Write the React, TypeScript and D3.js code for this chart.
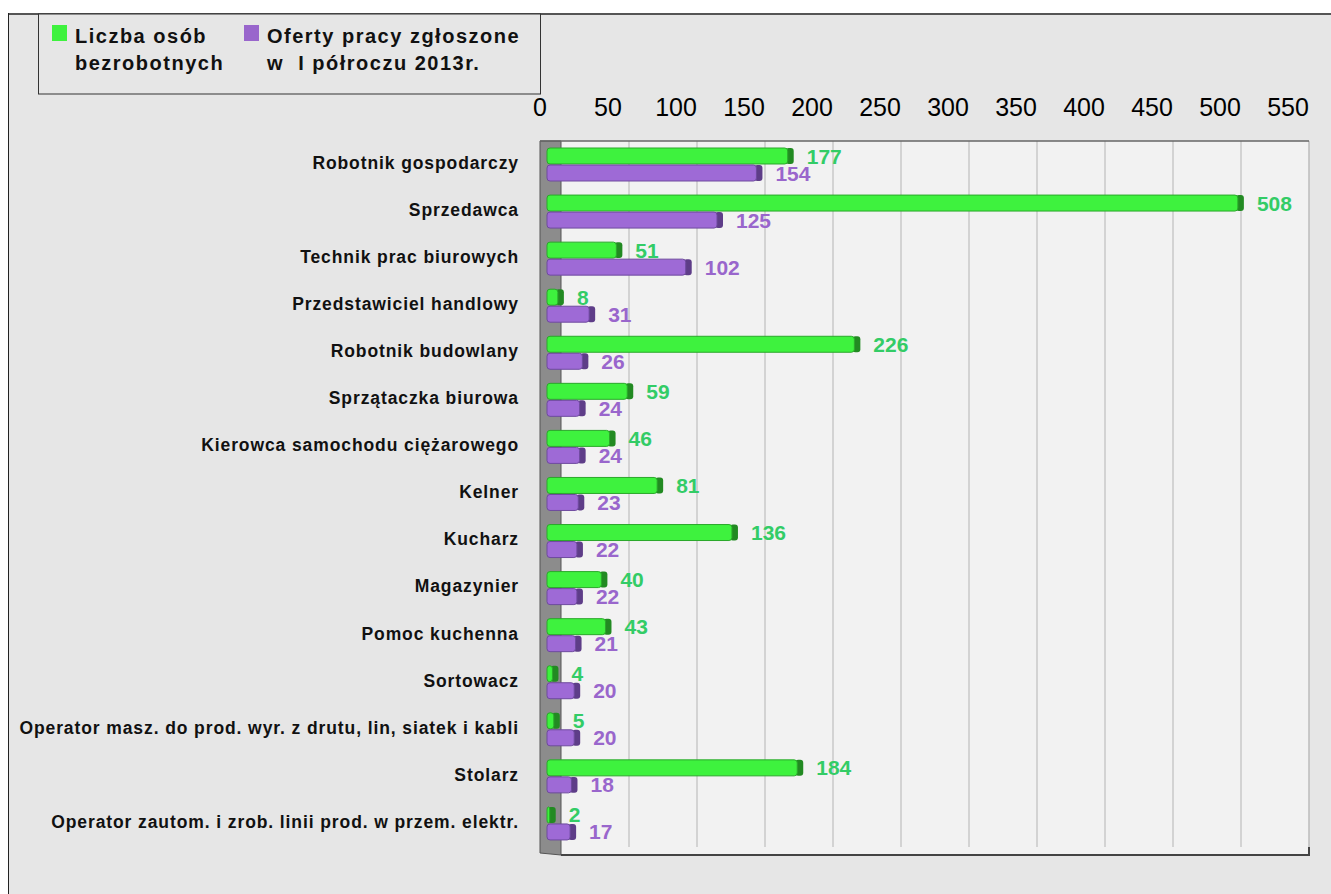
import React from "react";
import * as d3 from "d3";

const categories = [
  "Robotnik gospodarczy",
  "Sprzedawca",
  "Technik prac biurowych",
  "Przedstawiciel handlowy",
  "Robotnik budowlany",
  "Sprzątaczka biurowa",
  "Kierowca samochodu ciężarowego",
  "Kelner",
  "Kucharz",
  "Magazynier",
  "Pomoc kuchenna",
  "Sortowacz",
  "Operator masz. do prod. wyr. z drutu, lin, siatek i kabli",
  "Stolarz",
  "Operator zautom. i zrob. linii prod. w przem. elektr.",
];
const unemployed = [177, 508, 51, 8, 226, 59, 46, 81, 136, 40, 43, 4, 5, 184, 2];
const offers = [154, 125, 102, 31, 26, 24, 24, 23, 22, 22, 21, 20, 20, 18, 17];
const ticks = [0, 50, 100, 150, 200, 250, 300, 350, 400, 450, 500, 550];
const seriesNames = [
  ["Liczba osób", "bezrobotnych"],
  ["Oferty pracy zgłoszone", "w  I półroczu 2013r."],
];

const W = 1331;
const H = 894;
const FONT = "'Liberation Sans', Arial, sans-serif";

const GREEN = { fill: "#3ef23e", edge: "#2aa82a", cap: "#228a22", label: "#33cc66" };
const PURPLE = { fill: "#9e6ad6", edge: "#6e4a9e", cap: "#5e3d88", label: "#9966cc" };

export default function App() {
  const x = d3.scaleLinear().domain([0, 550]).range([540, 1288]);
  const y = d3
    .scaleBand<string>()
    .domain(categories)
    .range([141, 847]);
  const sub = d3.scaleBand<string>().domain(["g", "p"]).range([7, 40]).paddingInner(0.06);

  const barX0 = x(0) + 7;
  const depth = 21;
  const cap = 6;
  const plotL = x(0) + depth;
  const plotR = x(550) + depth;
  const plotT = 141;
  const plotB = 847;
  const floorB = 855;

  const unit = (v: number) => x(v) - x(0);

  const renderBar = (cat: string, v: number, key: "g" | "p", c: typeof GREEN) => {
    const y0 = (y(cat) ?? 0) + (sub(key) ?? 0);
    const h = sub.bandwidth();
    const w = unit(v);
    return (
      <g key={cat + key}>
        <rect x={barX0 + w - 2} y={y0} width={cap + 2} height={h} rx={3} fill={c.cap} />
        <rect
          x={barX0}
          y={y0}
          width={Math.max(w, 2)}
          height={h}
          rx={3}
          fill={c.fill}
          stroke={c.edge}
          strokeWidth={1}
        />
        <text
          x={barX0 + w + cap + 13}
          y={y0 + h / 2}
          dy="0.36em"
          fontFamily={FONT}
          fontWeight="bold"
          fontSize={21}
          fill={c.label}
        >
          {v}
        </text>
      </g>
    );
  };

  return (
    <svg
      width={W}
      height={H}
      style={{ position: "absolute", left: 0, top: 0, display: "block" }}
    >
      <rect x={0} y={0} width={W} height={H} fill="#ffffff" />
      <rect x={8.5} y={14} width={W} height={H} fill="#e6e6e6" />
      <line x1={8} x2={W} y1={14} y2={14} stroke="#555" strokeWidth={2} />
      <line x1={8.5} x2={8.5} y1={13} y2={H} stroke="#222" strokeWidth={1} />

      {/* legend */}
      <rect x={38.5} y={14} width={502} height={80} fill="#e6e6e6" stroke="#333" strokeWidth={1} />
      {seriesNames.map((lines, i) => {
        const lx = i === 0 ? 52 : 244;
        return (
          <g key={i}>
            <rect x={lx} y={25} width={15} height={16} fill={i === 0 ? "#3ef23e" : "#9966cc"} />
            {lines.map((t, j) => (
              <text
                key={j}
                x={lx + 23}
                y={36 + j * 27}
                dy="0.36em"
                fontFamily={FONT}
                fontWeight="bold"
                fontSize={20}
                letterSpacing={1.5}
                fill="#111"
                style={{ whiteSpace: "pre" }}
              >
                {t}
              </text>
            ))}
          </g>
        );
      })}

      {/* tick labels */}
      {ticks.map((t) => (
        <text
          key={t}
          x={x(t)}
          y={107}
          dy="0.36em"
          textAnchor="middle"
          fontFamily={FONT}
          fontSize={25}
          fill="#000"
        >
          {t}
        </text>
      ))}

      <rect x={plotL} y={plotT} width={plotR - plotL} height={floorB - plotT} fill="#f2f2f2" />
      {ticks
        .filter((t) => t > 0 && t < 550)
        .map((t) => (
          <line
            key={t}
            x1={x(t) + depth}
            x2={x(t) + depth}
            y1={plotT}
            y2={plotB}
            stroke="#c8c8c8"
            strokeWidth={1.5}
          />
        ))}
      <line x1={plotR} x2={plotR} y1={plotT} y2={plotB} stroke="#bbb" strokeWidth={1.5} />
      <line x1={plotR} x2={plotR} y1={plotB} y2={floorB} stroke="#444" strokeWidth={2} />
      <polygon
        points={`${x(0)},${plotT} ${plotL},${plotT} ${plotL},${floorB} ${x(0)},${floorB - 2}`}
        fill="#8c8c8c"
        stroke="#555"
        strokeWidth={1}
      />
      <line x1={x(0)} x2={plotR} y1={plotT} y2={plotT} stroke="#666" strokeWidth={1.5} />
      <line x1={plotL} x2={plotR + 1} y1={floorB} y2={floorB} stroke="#444" strokeWidth={2} />

      {/* category labels */}
      {categories.map((c) => (
        <text
          key={c}
          x={519}
          y={(y(c) ?? 0) + y.bandwidth() / 2 - 2}
          dy="0.36em"
          textAnchor="end"
          fontFamily={FONT}
          fontWeight="bold"
          fontSize={17.5}
          letterSpacing={0.9}
          fill="#111"
        >
          {c}
        </text>
      ))}

      {categories.map((c, i) => (
        <g key={c}>
          {renderBar(c, unemployed[i], "g", GREEN)}
          {renderBar(c, offers[i], "p", PURPLE)}
        </g>
      ))}
    </svg>
  );
}
